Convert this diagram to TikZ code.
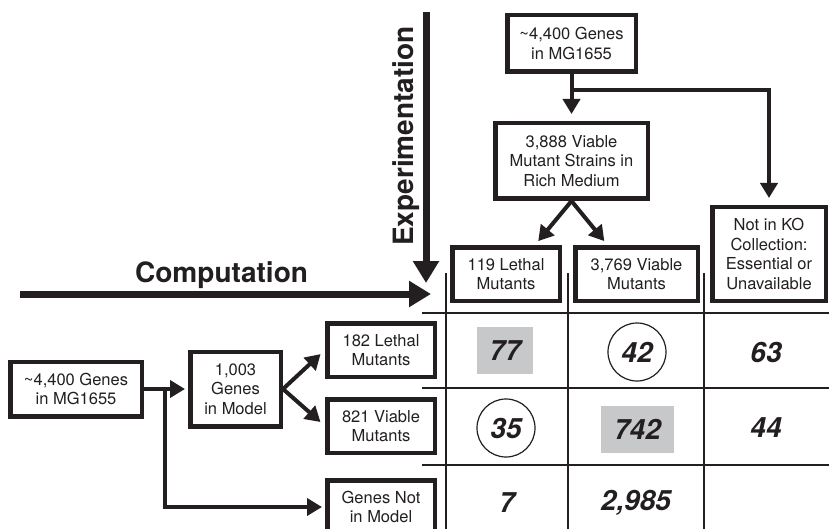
\documentclass[tikz,border=0pt]{standalone}
\usepackage{fontspec}
\setmainfont{TeX Gyre Heros}
\usetikzlibrary{positioning}
\usetikzlibrary{arrows.meta}

\definecolor{ink}{RGB}{35,31,32}
\definecolor{cellgray}{RGB}{199,200,202}

\tikzset{
  box/.style={draw=ink, line width=4.5pt, fill=white, align=center, inner sep=0pt,
    text=ink, font=\fontsize{16.5}{19.5}\selectfont},
  flow/.style={draw=ink, line width=4pt, -{Triangle[length=15pt,width=17pt]}},
  bigflow/.style={draw=ink, line width=7pt, -{Triangle[length=22pt,width=25pt]}},
  gridline/.style={draw=ink, line width=1.3pt},
  count/.style={text=ink, inner sep=0pt, font=\fontsize{28}{28}\bfseries\itshape\selectfont},
  heading/.style={text=ink, inner sep=0pt, font=\fontsize{28}{28}\bfseries\selectfont},
}

\begin{document}
\begin{tikzpicture}[x=1pt, y=-1pt]

     \useasboundingbox[fill=white] (0,0) rectangle (829,529);

     % grid
     \draw[gridline] (422,313) -- (829,313);
     \draw[gridline] (422,388) -- (829,388);
     \draw[gridline] (422,465) -- (829,465);
     \draw[gridline] (446,273) -- (446,529);
     \draw[gridline] (568,273) -- (568,529);
     \draw[gridline] (704,273) -- (704,529);

     % experiment nodes
     \node[box, minimum width=128.5pt, minimum height=56.5pt] (topgenes) at (571.5,43.5) {\textasciitilde4,400 Genes\\in MG1655};%
     \node[box, below=47pt of topgenes, minimum width=152.5pt, minimum height=75.5pt] (viable3888) {3,888 Viable\\Mutant Strains in\\Rich Medium};%
     \node[box, minimum width=107.5pt, minimum height=53.5pt] (lethal119) at (506,274) {119 Lethal\\Mutants};%
     \node[box, right=11pt of lethal119, minimum width=122.5pt, minimum height=53.5pt] (viable3769) {3,769 Viable\\Mutants};%
     \node[box, right=10pt of viable3769.south east, anchor=south west, minimum width=113.5pt, minimum height=93.5pt] (notko) {Not in KO\\Collection:\\Essential or\\Unavailable};%

     % model nodes
     \node[box, minimum width=131.5pt, minimum height=54.5pt] (leftgenes) at (76,389) {\textasciitilde4,400 Genes\\in MG1655};%
     \node[box, right=44pt of leftgenes, minimum width=90.5pt, minimum height=74.5pt] (model1003) {1,003\\Genes\\in Model};%
     \node[box, minimum width=107.5pt, minimum height=53.5pt] (lethal182) at (381,350) {182 Lethal\\Mutants};%
     \node[box, below=18pt of lethal182, minimum width=107.5pt, minimum height=53.5pt] (viable821) {821 Viable\\Mutants};%
     \node[box, below=23pt of viable821, minimum width=107.5pt, minimum height=53.5pt] (notmodel) {Genes Not\\in Model};%

     % headings
     \node[heading] (comp) at (221.5,275) {Computation};%
     \node[heading, rotate=90] (expt) at (406,136) {Experimentation};%
     \coordinate (compstart) at (20,294);
     \coordinate (compend) at (431,294);
     \coordinate (exptstart) at (426,12);
     \coordinate (exptend) at (426,283);

     % edges
     \coordinate (splittop) at (571.5,90);
     \coordinate (splitleft) at (165,389);
     \draw[flow, shorten >=7pt] (topgenes) -- (viable3888);
     \draw[flow, shorten >=7pt] (splittop) -| (notko);
     \draw[flow, shorten >=5pt] (viable3888.south) -- (lethal119.45);
     \draw[flow, shorten >=5pt] (viable3888.south) -- (viable3769.135);
     \draw[flow, shorten >=3pt] (leftgenes) -- (model1003);
     \draw[flow, shorten >=3pt] (splitleft) |- (notmodel);
     \draw[flow, shorten >=6pt] (model1003.east) -- (lethal182.west);
     \draw[flow, shorten >=6pt] (model1003.east) -- (viable821.west);
     \draw[bigflow] (compstart) -- (compend);
     \draw[bigflow] (exptstart) -- (exptend);

     % counts
     \node[count, fill=cellgray, minimum width=56pt, minimum height=47pt] (c11) at (505,350.5) {77};%
     \node[count, circle, draw=ink, line width=1.2pt, minimum size=58pt] (c12) at (637,352) {42};%
     \node[count] (c13) at (766,352) {63};%
     \node[count, circle, draw=ink, line width=1.2pt, minimum size=58pt] (c21) at (506,428) {35};%
     \node[count, fill=cellgray, minimum width=73pt, minimum height=47pt] (c22) at (637.5,429.5) {742};%
     \node[count] (c23) at (766,428) {44};%
     \node[count] (c31) at (507,503) {7};%
     \node[count] (c32) at (636,503) {2,985};%

\end{tikzpicture}
\end{document}
